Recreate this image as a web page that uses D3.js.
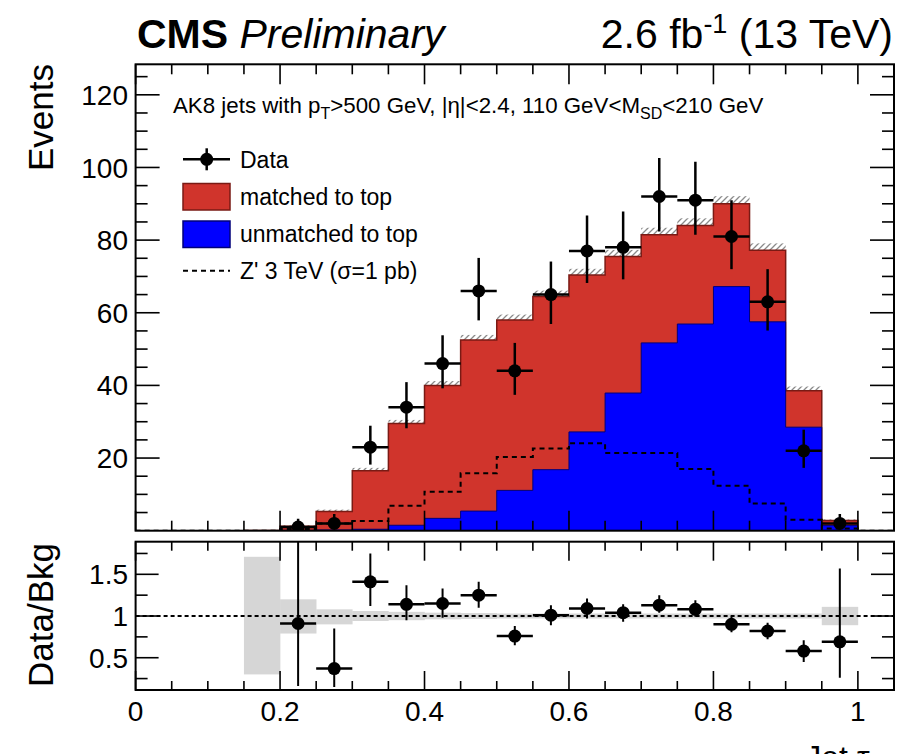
<!DOCTYPE html>
<html>
<head>
<meta charset="utf-8">
<script src="https://cdn.jsdelivr.net/npm/d3@7"></script>
<style>
  html, body { margin: 0; padding: 0; background: #fff; }
  svg { display: block; font-family: "Liberation Sans", Arial, Helvetica, sans-serif; }
</style>
</head>
<body>
<svg id="chart" width="914" height="754"></svg>
<script>
// ---------------- data ----------------
const binEdges = [0,0.05,0.1,0.15,0.2,0.25,0.3,0.35,0.4,0.45,0.5,0.55,0.6,0.65,0.7,0.75,0.8,0.85,0.9,0.95,1.0,1.05];
// stacked backgrounds (per bin)
const unmatched = [0,0,0,0.02,0.1,0.2,0.4,1.5,3.4,5.4,11.1,16.8,27.2,37.9,51.7,56.9,67.2,57.5,28.5,1.4,0];
const matched   = [0,0,0,0.03,1.1,5.1,16.1,28,36.6,47.1,46.9,47.7,43.2,37.6,29.8,27.1,22.8,19.7,10,1.4,0];
const bkgUnc    = [0,0,0,0.05,0.3,0.5,0.8,1.0,1.2,1.4,1.5,1.6,1.7,1.8,1.9,2.0,2.1,1.9,1.2,0.3,0];
// Z' 3 TeV signal
const zprime    = [0,0,0,0,0.5,2.0,2.7,6.9,10.7,15.8,20.3,22.6,24.1,21.4,21.4,17.0,12.4,7.5,3.0,0.6,0];
// data points
const dataX     = [0.225,0.275,0.325,0.375,0.425,0.475,0.525,0.575,0.625,0.675,0.725,0.775,0.825,0.875,0.925,0.975];
const dataY     = [1,2,23,34,46,66,44,65,77,78,92,91,81,63,22,2];
const dataErrLo = [0.8,1.3,4.8,5.8,6.8,8.1,6.6,8.1,8.8,8.8,9.6,9.5,9.0,7.9,4.7,1.3];
const dataErrHi = [2.3,2.6,5.9,6.9,7.8,9.1,7.7,9.1,9.8,9.9,10.6,10.6,10.0,9.0,5.8,2.6];
// ratio panel
const ratioY     = [0.91,0.37,1.41,1.14,1.15,1.25,0.76,1.01,1.09,1.04,1.13,1.08,0.90,0.82,0.58,0.69];
const ratioErrLo = [0.75,0.22,0.29,0.19,0.17,0.15,0.11,0.12,0.12,0.11,0.09,0.09,0.095,0.10,0.13,0.43];
const ratioErrHi = [1.20,0.48,0.34,0.23,0.18,0.16,0.12,0.12,0.12,0.10,0.12,0.11,0.095,0.10,0.13,0.88];
const bandLo = [null,null,null,0.30,0.79,0.90,0.94,0.95,0.96,0.965,0.97,0.97,0.97,0.97,0.97,0.97,0.97,0.97,0.97,0.89,null];
const bandHi = [null,null,null,1.71,1.20,1.08,1.06,1.05,1.04,1.035,1.03,1.03,1.03,1.03,1.03,1.03,1.03,1.03,1.03,1.11,null];
// ticks
const xTickLabels = ["0","0.2","0.4","0.6","0.8","1"];
const yTickLabels = ["20","40","60","80","100","120"];
const rTickLabels = ["0.5","1","1.5"];
const legendLabels = ["Data","matched to top","unmatched to top","Z' 3 TeV (σ=1 pb)"];

// ---------------- layout ----------------
const L = 135.6, R = 894;
const topT = 64.3, topB = 530.7;
const rT = 541.7, rB = 690;
const RED = "#d0342c", RED_LINE = "#7a1a14", BLUE = "#0000ff", BLUE_LINE = "#00007a";

const svg = d3.select("#chart");
const x = d3.scaleLinear().domain([0, 1.05]).range([L, R]);
const y = d3.scaleLinear().domain([0, 128.4]).range([topB, topT]);
const yr = d3.scaleLinear().domain([0.113, 1.891]).range([rB, rT]);

const defs = svg.append("defs");
const pat = defs.append("pattern").attr("id","hatch").attr("patternUnits","userSpaceOnUse")
  .attr("width",6).attr("height",6);
pat.append("path").attr("d","M0,6 L6,0 M-1.5,1.5 L1.5,-1.5 M4.5,7.5 L7.5,4.5")
  .attr("stroke","#8a8a8a").attr("stroke-width",1.3);
defs.append("clipPath").attr("id","clipTop").append("rect")
  .attr("x",L).attr("y",topT).attr("width",R-L).attr("height",topB-topT);
defs.append("clipPath").attr("id","clipR").append("rect")
  .attr("x",L).attr("y",rT).attr("width",R-L).attr("height",rB-rT);

const nb = binEdges.length - 1;
const bins = d3.range(nb).map(i => ({
  lo: binEdges[i], hi: binEdges[i+1],
  un: unmatched[i], ma: matched[i], tot: unmatched[i] + matched[i],
  unc: bkgUnc[i], zp: zprime[i], bLo: bandLo[i], bHi: bandHi[i]
}));
function stepPts(acc){ return binEdges.map((e,i) => ({e, v: acc(bins[Math.min(i, nb-1)])})); }

// ---------------- top panel ----------------
const gTop = svg.append("g").attr("clip-path","url(#clipTop)");
gTop.selectAll("rect.unc").data(bins.filter(b => b.unc > 0)).join("rect")
  .attr("x", b => x(b.lo)).attr("width", b => x(b.hi) - x(b.lo))
  .attr("y", b => y(b.tot + b.unc)).attr("height", b => y(b.tot - b.unc) - y(b.tot + b.unc))
  .attr("fill","url(#hatch)");

const area = (acc) => d3.area().curve(d3.curveStepAfter)
  .x(d => x(d.e)).y0(y(0)).y1(d => y(d.v))(stepPts(acc));
const line = (acc) => d3.line().curve(d3.curveStepAfter)
  .x(d => x(d.e)).y(d => y(d.v))(stepPts(acc));

gTop.append("path").attr("d", area(b => b.tot)).attr("fill", RED);
gTop.append("path").attr("d", line(b => b.tot)).attr("fill","none").attr("stroke",RED_LINE).attr("stroke-width",1.5);
gTop.append("path").attr("d", area(b => b.un)).attr("fill", BLUE);
gTop.append("path").attr("d", line(b => b.un)).attr("fill","none").attr("stroke",BLUE_LINE).attr("stroke-width",1);
gTop.append("path").attr("d", line(b => b.zp)).attr("fill","none").attr("stroke","#000")
  .attr("stroke-width",2).attr("stroke-dasharray","5,4");

const pts = dataX.map((v,i) => ({x:v, y:dataY[i], lo:dataErrLo[i], hi:dataErrHi[i]}));
const gD = gTop.append("g");
gD.selectAll("line.h").data(pts).join("line")
  .attr("x1", d => x(d.x - 0.025)).attr("x2", d => x(d.x + 0.025))
  .attr("y1", d => y(d.y)).attr("y2", d => y(d.y))
  .attr("stroke","#000").attr("stroke-width",2.5);
gD.selectAll("line.v").data(pts).join("line")
  .attr("x1", d => x(d.x)).attr("x2", d => x(d.x))
  .attr("y1", d => y(d.y - d.lo)).attr("y2", d => y(d.y + d.hi))
  .attr("stroke","#000").attr("stroke-width",2.5);
gD.selectAll("circle").data(pts).join("circle")
  .attr("cx", d => x(d.x)).attr("cy", d => y(d.y)).attr("r", 6.5).attr("fill","#000");

// ---------------- ratio panel ----------------
const gR = svg.append("g").attr("clip-path","url(#clipR)");
gR.selectAll("rect.band").data(bins.filter(b => b.bLo !== null)).join("rect")
  .attr("x", b => x(b.lo)).attr("width", b => x(b.hi) - x(b.lo) + 0.3)
  .attr("y", b => yr(b.bHi)).attr("height", b => yr(b.bLo) - yr(b.bHi))
  .attr("fill","#d6d6d6");
gR.append("line").attr("x1",L).attr("x2",R).attr("y1",yr(1)).attr("y2",yr(1))
  .attr("stroke","#000").attr("stroke-width",2).attr("stroke-dasharray","4,3");
const rpts = dataX.map((v,i) => ({x:v, y:ratioY[i], lo:ratioErrLo[i], hi:ratioErrHi[i]}));
gR.selectAll("line.h").data(rpts).join("line")
  .attr("x1", d => x(d.x - 0.025)).attr("x2", d => x(d.x + 0.025))
  .attr("y1", d => yr(d.y)).attr("y2", d => yr(d.y))
  .attr("stroke","#000").attr("stroke-width",2.5);
gR.selectAll("line.v").data(rpts).join("line")
  .attr("x1", d => x(d.x)).attr("x2", d => x(d.x))
  .attr("y1", d => yr(d.y - d.lo)).attr("y2", d => yr(d.y + d.hi))
  .attr("stroke","#000").attr("stroke-width",2);
gR.selectAll("circle").data(rpts).join("circle")
  .attr("cx", d => x(d.x)).attr("cy", d => yr(d.y)).attr("r", 6.5).attr("fill","#000");

// ---------------- axes ----------------
const FONT_TICK = 28;
function drawFrame(t, b){
  svg.append("rect").attr("x",L).attr("y",t).attr("width",R-L).attr("height",b-t)
    .attr("fill","none").attr("stroke","#000").attr("stroke-width",2);
}
drawFrame(topT, topB);
drawFrame(rT, rB);

function xTicks(t, b, majLen, minLen){
  const minor = d3.range(0, 1.05001, 0.05).map(v => +v.toFixed(2));
  const g = svg.append("g").attr("stroke","#000").attr("stroke-width",1.6);
  minor.forEach(v => {
    const isMaj = Math.abs(v*5 - Math.round(v*5)) < 1e-6;
    const len = isMaj ? majLen : minLen;
    g.append("line").attr("x1",x(v)).attr("x2",x(v)).attr("y1",b).attr("y2",b-len);
    g.append("line").attr("x1",x(v)).attr("x2",x(v)).attr("y1",t).attr("y2",t+len);
  });
}
xTicks(topT, topB, 20, 10);
xTicks(rT, rB, 19, 9);

(function(){
  const g = svg.append("g").attr("stroke","#000").attr("stroke-width",1.6);
  d3.range(5, 128.4, 5).forEach(v => {
    const len = (v % 20 === 0) ? 24 : 12;
    g.append("line").attr("x1",L).attr("x2",L+len).attr("y1",y(v)).attr("y2",y(v));
    g.append("line").attr("x1",R).attr("x2",R-len).attr("y1",y(v)).attr("y2",y(v));
  });
  svg.append("g").selectAll("text").data(yTickLabels).join("text")
    .attr("x", 128).attr("y", d => y(+d)).attr("dy","0.36em")
    .attr("text-anchor","end").attr("font-size",FONT_TICK).text(d => d);
})();
(function(){
  const g = svg.append("g").attr("stroke","#000").attr("stroke-width",1.6);
  [0.25,0.5,0.75,1,1.25,1.5,1.75].forEach(v => {
    const len = (Math.abs(v*2 - Math.round(v*2)) < 1e-6) ? 23 : 12;
    g.append("line").attr("x1",L).attr("x2",L+len).attr("y1",yr(v)).attr("y2",yr(v));
    g.append("line").attr("x1",R).attr("x2",R-len).attr("y1",yr(v)).attr("y2",yr(v));
  });
  svg.append("g").selectAll("text").data(rTickLabels).join("text")
    .attr("x", 128).attr("y", d => yr(+d)).attr("dy","0.36em")
    .attr("text-anchor","end").attr("font-size",FONT_TICK).text(d => d);
})();
svg.append("g").selectAll("text").data(xTickLabels).join("text")
  .attr("x", d => x(+d)).attr("y", 721).attr("text-anchor","middle")
  .attr("font-size",FONT_TICK).text(d => d);

// axis titles
svg.append("text").attr("transform","translate(53,64) rotate(-90)").attr("text-anchor","end")
  .attr("font-size",35).text("Events");
svg.append("text").attr("transform","translate(53,543) rotate(-90)").attr("text-anchor","end")
  .attr("font-size",35).text("Data/Bkg");
const xt = svg.append("text").attr("x",894).attr("y",768).attr("text-anchor","end").attr("font-size",32);
xt.append("tspan").text("Jet τ");
xt.append("tspan").attr("font-size",22).attr("dy",6).text("32");

// header texts
const cms = svg.append("text").attr("x",137).attr("y",48).attr("font-size",41);
cms.append("tspan").attr("font-weight","bold").text("CMS");
cms.append("tspan").attr("font-style","italic").text(" Preliminary");
const lumi = svg.append("text").attr("x",893).attr("y",48).attr("font-size",41).attr("text-anchor","end");
lumi.append("tspan").text("2.6 fb");
lumi.append("tspan").attr("font-size",27).attr("dy",-15).text("-1");
lumi.append("tspan").attr("dy",15).text(" (13 TeV)");

// selection label
const sel = svg.append("text").attr("x",173).attr("y",113).attr("font-size",22.3);
sel.append("tspan").text("AK8 jets with p");
sel.append("tspan").attr("font-size",16).attr("dy",6).text("T");
sel.append("tspan").attr("dy",-6).text(">500 GeV, |η|<2.4, 110 GeV<M");
sel.append("tspan").attr("font-size",16).attr("dy",6).text("SD");
sel.append("tspan").attr("dy",-6).text("<210 GeV");

// legend
const lg = svg.append("g");
const ly = [159.3, 196.7, 234, 270.7];
lg.append("line").attr("x1",183).attr("x2",230).attr("y1",ly[0]).attr("y2",ly[0]).attr("stroke","#000").attr("stroke-width",2.5);
lg.append("line").attr("x1",206.7).attr("x2",206.7).attr("y1",ly[0]-11).attr("y2",ly[0]+11).attr("stroke","#000").attr("stroke-width",2.5);
lg.append("circle").attr("cx",206.7).attr("cy",ly[0]).attr("r",6.5).attr("fill","#000");
lg.append("rect").attr("x",183).attr("y",183.5).attr("width",47).attr("height",26.5)
  .attr("fill",RED).attr("stroke",RED_LINE).attr("stroke-width",1.5);
lg.append("rect").attr("x",183).attr("y",221).attr("width",47).attr("height",26.5)
  .attr("fill",BLUE).attr("stroke",BLUE_LINE).attr("stroke-width",1.5);
lg.append("line").attr("x1",183).attr("x2",230).attr("y1",ly[3]).attr("y2",ly[3])
  .attr("stroke","#000").attr("stroke-width",2).attr("stroke-dasharray","5,4");
lg.selectAll("text").data(legendLabels).join("text")
  .attr("x",240).attr("y",(d,i) => ly[i]).attr("dy","0.36em").attr("font-size",23).text(d => d);
</script>
</body>
</html>
